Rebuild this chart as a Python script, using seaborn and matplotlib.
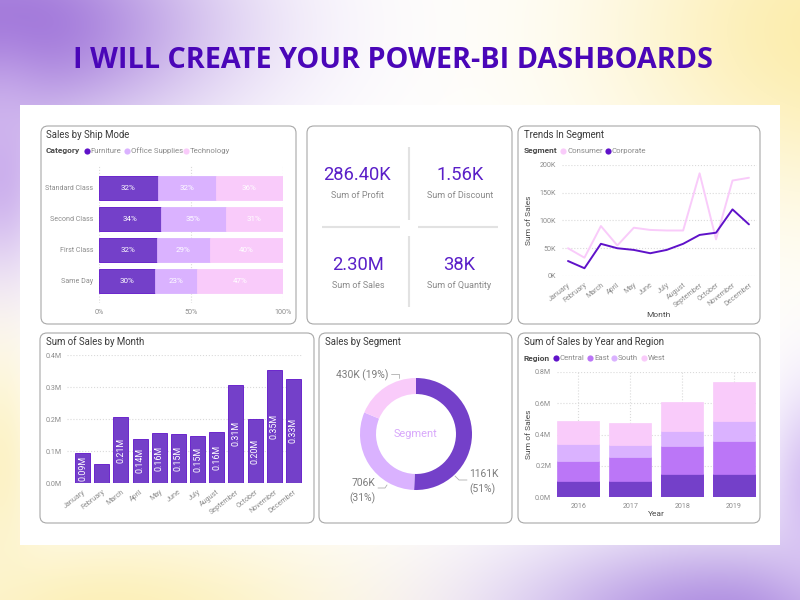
import numpy as np
import matplotlib
matplotlib.use("Agg")

import matplotlib.pyplot as plt
from matplotlib.patches import FancyBboxPatch, Rectangle
import seaborn as sns

# data
ship_modes = ["Standard Class", "Second Class", "First Class", "Same Day"]
ship_furniture = [31.9, 33.7, 31.5, 30.4]
ship_office = [31.6, 35.1, 28.8, 22.6]
ship_technology = [36.4, 31.2, 39.7, 47.0]

months = ["January", "February", "March", "April", "May", "June", "July",
          "August", "September", "October", "November", "December"]
consumer_sales = [50, 33, 90, 55, 87, 83, 82, 82, 185, 66, 172, 177]
corporate_sales = [27, 14, 58, 50, 47, 41, 47, 58, 74, 78, 120, 93]

month_sales = [0.094, 0.060, 0.205, 0.138, 0.156, 0.153, 0.148, 0.160,
               0.307, 0.200, 0.352, 0.326]
month_labels = ["0.09M", "", "0.21M", "0.14M", "0.16M", "0.15M", "0.15M", "0.16M",
                "0.31M", "0.20M", "0.35M", "0.33M"]

segment_sales = [1161, 706, 430]

years = ["2016", "2017", "2018", "2019"]
region_central = [0.102, 0.102, 0.147, 0.145]
region_east = [0.130, 0.156, 0.182, 0.216]
region_south = [0.105, 0.075, 0.093, 0.123]
region_west = [0.147, 0.138, 0.188, 0.252]

kpi_values = ["286.40K", "1.56K", "2.30M", "38K"]
kpi_names = ["Sum of Profit", "Sum of Discount", "Sum of Sales", "Sum of Quantity"]

DARK = "#7440c9"
DARK_EDGE = "#5f12c9"
EAST = "#bb76f7"
MID = "#dab2ff"
LIGHT = "#f9cbfa"
TITLE_COL = "#3a3a3a"
TICK_COL = "#8c8c8c"
GRID_COL = "#dadada"
W, H = 800, 600


def px_axes(fig, left, top, right, bottom):
    return fig.add_axes([left / W, 1 - bottom / H, (right - left) / W, (bottom - top) / H],
                        facecolor="none")


def background():
    yy, xx = np.mgrid[0:H, 0:W]
    img = np.ones((H, W, 3))
    blobs = [
        ((0, 25), (215, 110), (0.62, 0.45, 0.85)),
        ((0, 170), (50, 110), (0.80, 0.69, 0.93)),
        ((840, 30), (230, 170), (0.99, 0.93, 0.68)),
        ((110, 620), (240, 95), (0.99, 0.94, 0.72)),
        ((0, 470), (40, 130), (0.99, 0.95, 0.78)),
        ((720, 625), (210, 90), (0.68, 0.55, 0.88)),
        ((815, 490), (45, 100), (0.83, 0.74, 0.95)),
    ]
    for (cx, cy), (sx, sy), col in blobs:
        w = np.exp(-((xx - cx) / sx) ** 2 - ((yy - cy) / sy) ** 2)[..., None]
        img = img * (1 - w) + np.array(col) * w
    return img


def add_legend(canvas, title, title_x, y, names, colors, dot_xs):
    canvas.text(title_x, y, title, fontsize=6, fontweight="bold", color="#4a4a4a",
                va="center", ha="left")
    for name, col, x in zip(names, colors, dot_xs):
        canvas.scatter([x], [y], s=20, color=col, linewidths=0, zorder=3)
        canvas.text(x + 4, y, name, fontsize=5.6, color="#8a8a8a", va="center", ha="left")


def style_axes(ax, grid_axis, pad=3, size=5.1):
    sns.despine(ax=ax, left=True, bottom=True)
    ax.set_xlabel("")
    ax.set_ylabel("")
    ax.tick_params(length=0, labelsize=size, labelcolor=TICK_COL, pad=pad)
    ax.grid(False)
    ax.grid(True, axis=grid_axis, linestyle=":", linewidth=0.8, color=GRID_COL)
    ax.set_axisbelow(True)


def rotate_months(ax):
    ax.tick_params(axis="x", rotation=38)
    for label in ax.get_xticklabels():
        label.set_ha("right")
        label.set_rotation_mode("anchor")


def main():
    sns.set_theme(style="white")
    plt.rcParams["font.family"] = ["Roboto", "DejaVu Sans"]

    fig = plt.figure(figsize=(8, 6), dpi=100)

    canvas = fig.add_axes([0, 0, 1, 1], zorder=0)
    canvas.imshow(background(), extent=(0, W, H, 0), aspect="auto")
    canvas.set_xlim(0, W)
    canvas.set_ylim(H, 0)
    canvas.axis("off")
    canvas.add_patch(Rectangle((20, 105), 760, 440, facecolor="white", edgecolor="none"))

    canvas.text(393, 60.5, "I WILL CREATE YOUR POWER-BI DASHBOARDS", fontsize=20.7,
                fontweight="bold", family="Open Sans", color="#4a06b8", ha="center", va="center")

    panels = [(41, 126, 296, 324), (307, 126, 512, 324), (518, 126, 760, 324),
              (40, 333, 314, 523), (319, 333, 512, 523), (518, 333, 760, 523)]
    for left, top, right, bottom in panels:
        canvas.add_patch(FancyBboxPatch((left, top), right - left, bottom - top,
                                        boxstyle="round,pad=0,rounding_size=7",
                                        facecolor="white", edgecolor="#a8a8a8", linewidth=0.8))

    titles = [("Sales by Ship Mode", 46, 135), ("Trends In Segment", 524, 135),
              ("Sum of Sales by Month", 46, 342), ("Sales by Segment", 325, 342),
              ("Sum of Sales by Year and Region", 524, 342)]
    for text, x, y in titles:
        canvas.text(x, y, text, fontsize=6.9, color=TITLE_COL, va="center", ha="left")

    # ship mode, stacked to 100%
    add_legend(canvas, "Category", 46, 151, ["Furniture", "Office Supplies", "Technology"],
               [DARK_EDGE, MID, LIGHT], [86.5, 127, 186])
    ax = px_axes(fig, 99, 165, 283, 303)
    left = np.zeros(len(ship_modes))
    for values, col, edge in [(ship_furniture, DARK, DARK_EDGE), (ship_office, MID, MID),
                              (ship_technology, LIGHT, LIGHT)]:
        sns.barplot(x=values, y=ship_modes, left=left, color=col, saturation=1, width=0.77,
                    edgecolor=edge, linewidth=0.6, errorbar=None, ax=ax)
        ax.bar_label(ax.containers[-1], labels=[f"{v:.0f}%" for v in values],
                     label_type="center", color="white", fontsize=5.8)
        left = left + np.array(values)
    ax.set_xlim(0, 100)
    ax.set_ylim(3.71, -0.74)
    ax.set_xticks([0, 50, 100], ["0%", "50%", "100%"])
    style_axes(ax, "x", pad=4)

    # kpi cards
    kpi_x = [357, 460, 358, 459]
    kpi_y = [175, 175, 265, 265]
    for value, name, x, y in zip(kpi_values, kpi_names, kpi_x, kpi_y):
        canvas.text(x, y, value, fontsize=13.2, color="#5a1fc8", ha="center", va="center")
        canvas.text(x, y + 21, name, fontsize=6.5, color="#8a8a8a", ha="center", va="center")
    for xs, ys in [((409, 409), (147, 220)), ((409, 409), (236, 307)),
                   ((322, 400), (227, 227)), ((418, 498), (227, 227))]:
        canvas.plot(xs, ys, color="#e2e2e2", linewidth=1.5, solid_capstyle="butt")

    # segment trend
    add_legend(canvas, "Segment", 524, 151, ["Consumer", "Corporate"], [LIGHT, DARK_EDGE], [563, 607.5])
    ax = px_axes(fig, 561.5, 165, 757, 276)
    sns.lineplot(x=months, y=consumer_sales, color=LIGHT, linewidth=1.4, errorbar=None, sort=False, ax=ax)
    sns.lineplot(x=months, y=corporate_sales, color=DARK_EDGE, linewidth=1.4, errorbar=None, sort=False, ax=ax)
    ax.set_xlim(-0.395, 11.49)
    ax.set_ylim(0, 200)
    ax.set_yticks([0, 50, 100, 150, 200], ["0K", "50K", "100K", "150K", "200K"])
    style_axes(ax, "y", pad=4)
    rotate_months(ax)
    ax.set_ylabel("Sum of Sales", fontsize=6, color="#4a4a4a")
    ax.yaxis.set_label_coords(532, 220, transform=canvas.transData)
    ax.set_xlabel("Month", fontsize=6, color="#4a4a4a")
    ax.xaxis.set_label_coords(658, 312, transform=canvas.transData)

    # month bars
    ax = px_axes(fig, 67, 355, 303, 483)
    sns.barplot(x=months, y=month_sales, color=DARK, saturation=1, width=0.785,
                edgecolor=DARK_EDGE, linewidth=0.6, errorbar=None, ax=ax)
    ax.bar_label(ax.containers[-1], labels=month_labels, label_type="center", rotation=90,
                 color="white", fontsize=6.4)
    ax.set_xlim(-0.81, 11.5)
    ax.set_ylim(0, 0.4)
    ax.set_yticks([0, 0.1, 0.2, 0.3, 0.4], ["0.0M", "0.1M", "0.2M", "0.3M", "0.4M"])
    style_axes(ax, "y", pad=4)
    rotate_months(ax)

    # donut
    ax = px_axes(fig, 360, 378, 472, 490)
    ax.pie(segment_sales, colors=[DARK, MID, LIGHT], startangle=90, counterclock=False,
           radius=1, wedgeprops={"width": 0.286, "linewidth": 0})
    ax.set_xlim(-1, 1)
    ax.set_ylim(-1, 1)
    canvas.text(416, 434, "Segment", fontsize=7.9, color="#d8a8fb", ha="center", va="center")
    total = sum(segment_sales)
    pcts = [f"({v / total * 100:.0f}%)" for v in segment_sales]
    canvas.text(388, 375, f"{segment_sales[2]}K {pcts[2]}", fontsize=7.4, color="#7c7c7c",
                ha="right", va="center")
    canvas.text(375, 483, f"{segment_sales[1]}K", fontsize=7.4, color="#7c7c7c", ha="right", va="center")
    canvas.text(375, 498, pcts[1], fontsize=7.4, color="#7c7c7c", ha="right", va="center")
    canvas.text(469, 474, f"{segment_sales[0]}K", fontsize=7.4, color="#7c7c7c", ha="left", va="center")
    canvas.text(469, 489, pcts[0], fontsize=7.4, color="#7c7c7c", ha="left", va="center")
    for xs, ys in [((391, 399, 399), (374, 374, 378)), ((378, 385, 387), (488, 488, 485)),
                   ((455, 459, 467), (476, 480, 480))]:
        canvas.plot(xs, ys, color="#b0b0b0", linewidth=0.6)

    # year and region
    add_legend(canvas, "Region", 524, 358, ["Central", "East", "South", "West"],
               [DARK_EDGE, EAST, MID, LIGHT], [556, 590, 614, 644])
    ax = px_axes(fig, 556.7, 372, 757, 497)
    bottom = np.zeros(len(years))
    for values, col, edge in [(region_central, DARK, DARK_EDGE), (region_east, EAST, EAST),
                              (region_south, MID, MID), (region_west, LIGHT, LIGHT)]:
        sns.barplot(x=years, y=values, bottom=bottom, color=col, saturation=1, width=0.8,
                    edgecolor=edge, linewidth=0.5, errorbar=None, ax=ax)
        bottom = bottom + np.array(values)
    ax.set_xlim(-0.415, 3.44)
    ax.set_ylim(0, 0.8)
    ax.set_yticks([0, 0.2, 0.4, 0.6, 0.8], ["0.0M", "0.2M", "0.4M", "0.6M", "0.8M"])
    style_axes(ax, "both", pad=4)
    ax.set_ylabel("Sum of Sales", fontsize=6, color="#4a4a4a")
    ax.yaxis.set_label_coords(532, 434, transform=canvas.transData)
    ax.set_xlabel("Year", fontsize=6, color="#4a4a4a")
    ax.xaxis.set_label_coords(656, 511, transform=canvas.transData)

    fig.savefig("out.png", dpi=100)
    plt.close(fig)


if __name__ == "__main__":
    main()
